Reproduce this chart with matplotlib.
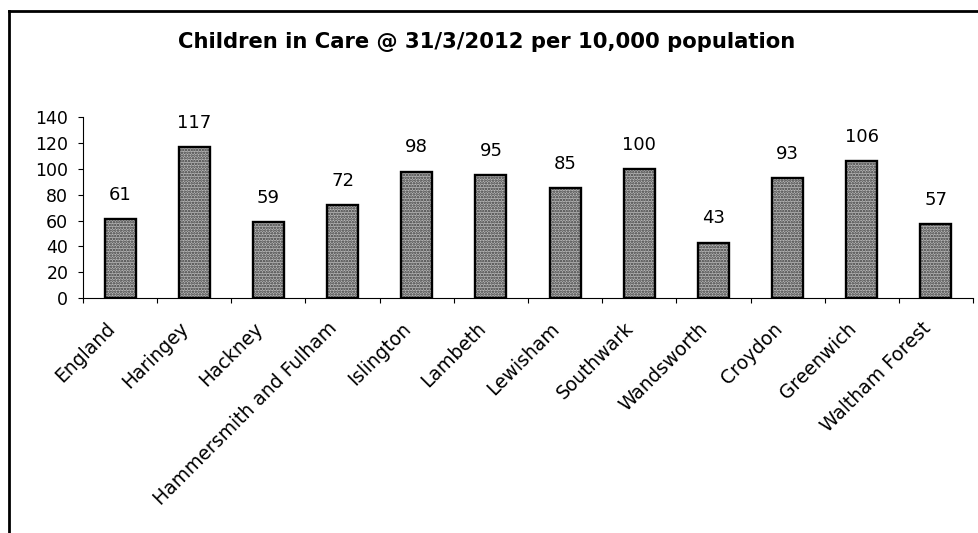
import matplotlib
matplotlib.use('Agg')
import matplotlib.pyplot as plt
import matplotlib.transforms as mtransforms
import numpy as np
from matplotlib.lines import Line2D

plt.rcParams['font.family'] = ['DejaVu Sans']

# data
boroughs = ['England', 'Haringey', 'Hackney', 'Hammersmith and Fulham', 'Islington',
            'Lambeth', 'Lewisham', 'Southwark', 'Wandsworth', 'Croydon',
            'Greenwich', 'Waltham Forest']
rates = [61, 117, 59, 72, 98, 95, 85, 100, 43, 93, 106, 57]
yticks = [0, 20, 40, 60, 80, 100, 120, 140]
title = 'Children in Care @ 31/3/2012 per 10,000 population'

fig = plt.figure(figsize=(9.79, 5.33), dpi=100)
ax = fig.add_axes([83 / 979, 1 - 298 / 533, 890 / 979, (298 - 117.4) / 533])

x = np.arange(len(boroughs))
# stippled fill, then black outline on top
plt.rcParams['hatch.linewidth'] = 1.2
ax.bar(x, rates, width=0.42, color='#b8b8b8', edgecolor='#383838', hatch='......',
       linewidth=0, zorder=2)
ax.bar(x, rates, width=0.42, fill=False, edgecolor='black', linewidth=1.7, zorder=3)

for xi, v in zip(x, rates):
    ax.annotate(str(v), (xi, v), xytext=(0, 17.5), textcoords='offset points',
                ha='center', va='center', fontsize=13)

ax.set_xlim(-0.5, len(boroughs) - 0.5)
ax.set_ylim(0, 140)
ax.set_yticks(yticks)
ax.tick_params(axis='y', direction='out', length=3.6, width=0.8, labelsize=12.5, pad=7)

ax.set_xticks(x)
ax.set_xticklabels(boroughs, rotation=45, ha='right', va='top',
                   rotation_mode='anchor', fontsize=13.5)
ax.tick_params(axis='x', which='major', length=0, pad=15)
shift = mtransforms.ScaledTranslation(-0.15, 0, fig.dpi_scale_trans)
for lab in ax.get_xticklabels():
    lab.set_transform(lab.get_transform() + shift)
ax.set_xticks(np.arange(len(boroughs) + 1) - 0.5, minor=True)
ax.tick_params(axis='x', which='minor', direction='out', length=3.6, width=0.8)

for s in ['top', 'right']:
    ax.spines[s].set_visible(False)
ax.spines['left'].set_linewidth(0.8)
ax.spines['bottom'].set_linewidth(0.8)

fig.text(487 / 979, 1 - 42 / 533, title, ha='center', va='center',
         fontsize=15.2, fontweight='bold')

# chart frame (left and top edges)
fig.add_artist(Line2D([9 / 979, 9 / 979], [0, 1 - 11 / 533], color='black', lw=2))
fig.add_artist(Line2D([9 / 979, 1], [1 - 11 / 533, 1 - 11 / 533], color='black', lw=2))

fig.savefig('out.png', dpi=100)
